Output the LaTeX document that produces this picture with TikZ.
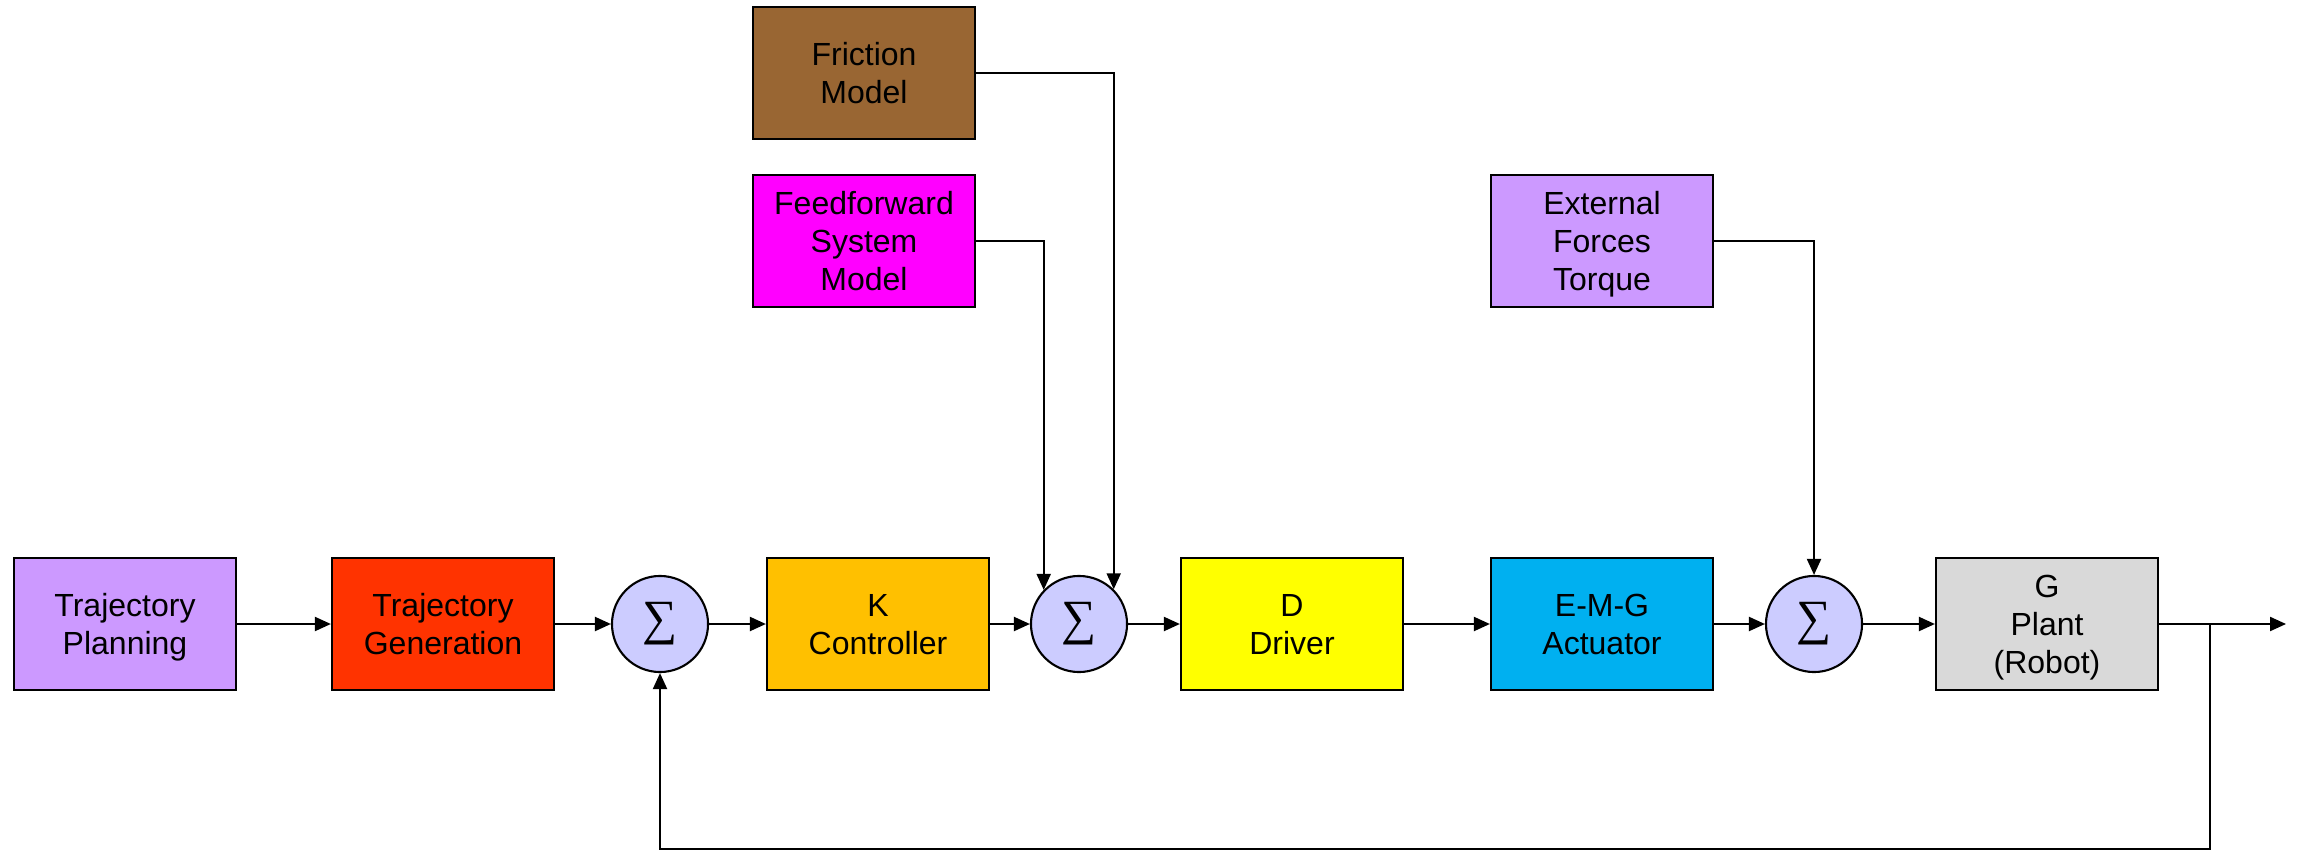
\documentclass[tikz,border=0pt]{standalone}
\usepackage{fontspec}
\setmainfont{Liberation Sans}
\newfontfamily\sigmafont{Liberation Serif}
\usetikzlibrary{arrows.meta}
\definecolor{cPlan}{HTML}{CC99FF}
\definecolor{cGen}{HTML}{FF3300}
\definecolor{cCtrl}{HTML}{FFC000}
\definecolor{cSum}{HTML}{CCCCFF}
\definecolor{cDrv}{HTML}{FFFF00}
\definecolor{cAct}{HTML}{00B0F0}
\definecolor{cPlant}{HTML}{D9D9D9}
\definecolor{cFric}{HTML}{996633}
\definecolor{cFF}{HTML}{FF00FF}
\tikzset{
  block/.style={draw=black, line width=0.6pt, minimum width=2.22cm, minimum height=1.32cm,
    inner sep=0pt, align=center, text depth=0pt, font=\fontsize{9.1}{10.8}\selectfont},
  sumnode/.style={circle, draw=black, line width=0.6pt, fill=cSum, minimum size=0.96cm, inner sep=0pt},
  arr/.style={line width=0.6pt, -{Triangle[length=0.16cm, width=0.14cm]}}
}
\newcommand{\sumsign}{{\sigmafont\fontsize{14}{14}\selectfont ∑}}
\begin{document}
\begin{tikzpicture}[x=0.01cm, y=-0.01cm]
\useasboundingbox (0,0) rectangle (2298,852);
% main signal path
\node[block, fill=cPlan]  (tp)    at (125,624)  {Trajectory\\Planning};
\node[block, fill=cGen]   (tg)    at (443,624)  {Trajectory\\Generation};
\node[sumnode]            (s1)    at (660,624)  {\sumsign};
\node[block, fill=cCtrl]  (ctrl)  at (878,624)  {K\\Controller};
\node[sumnode]            (s2)    at (1079,624) {\sumsign};
\node[block, fill=cDrv]   (drv)   at (1292,624) {D\\Driver};
\node[block, fill=cAct]   (act)   at (1602,624) {E-M-G\\Actuator};
\node[sumnode]            (s3)    at (1814,624) {\sumsign};
\node[block, fill=cPlant] (plant) at (2047,624) {G\\Plant\\(Robot)};
% disturbance and model inputs
\node[block, fill=cFric]  (fric)  at (864,73)   {Friction\\Model};
\node[block, fill=cFF]    (ff)    at (864,241)  {Feedforward\\System\\Model};
\node[block, fill=cPlan]  (ext)   at (1602,241) {External\\Forces\\Torque};
% output and feedback points
\coordinate (out) at (2286,624);
\coordinate (fb)  at (2210,624);
\coordinate (fbb) at (2210,849);
% connectors
\draw[arr] (tp) -- (tg);
\draw[arr] (tg) -- (s1);
\draw[arr] (s1) -- (ctrl);
\draw[arr] (ctrl) -- (s2);
\draw[arr] (s2) -- (drv);
\draw[arr] (drv) -- (act);
\draw[arr] (act) -- (s3);
\draw[arr] (s3) -- (plant);
\draw[arr] (plant) -- (out);
\draw[arr] (ff.east) -| (s2.136.8);
\draw[arr] (fric.east) -| (s2.45);
\draw[arr] (ext.east) -| (s3.north);
\draw[arr] (fb) -- (fbb) -| (s1.south);
\end{tikzpicture}
\end{document}
